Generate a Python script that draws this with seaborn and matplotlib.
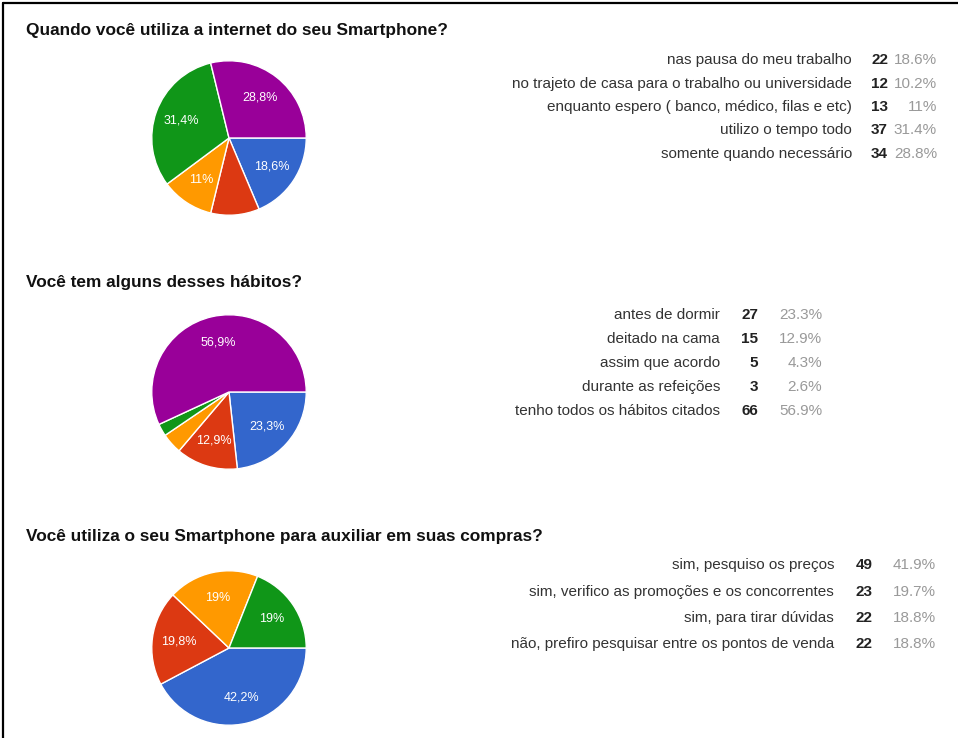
import matplotlib
matplotlib.use("Agg")
import matplotlib.pyplot as plt
import seaborn as sns
from matplotlib.lines import Line2D

sns.set_theme(style="white")
plt.rcParams['font.family'] = ['Liberation Sans', 'DejaVu Sans']

# ---------------- data ----------------
title1 = "Quando você utiliza a internet do seu Smartphone?"
labels1 = ["nas pausa do meu trabalho",
           "no trajeto de casa para o trabalho ou universidade",
           "enquanto espero ( banco, médico, filas e etc)",
           "utilizo o tempo todo",
           "somente quando necessário"]
counts1 = [22, 12, 13, 37, 34]
pcts1 = ["18.6%", "10.2%", "11%", "31.4%", "28.8%"]

title2 = "Você tem alguns desses hábitos?"
labels2 = ["antes de dormir", "deitado na cama", "assim que acordo",
           "durante as refeições", "tenho todos os hábitos citados"]
counts2 = [27, 15, 5, 3, 66]
pcts2 = ["23.3%", "12.9%", "4.3%", "2.6%", "56.9%"]

title3 = "Você utiliza o seu Smartphone para auxiliar em suas compras?"
labels3 = ["sim, pesquiso os preços",
           "sim, verifico as promoções e os concorrentes",
           "sim, para tirar dúvidas",
           "não, prefiro pesquisar entre os pontos de venda"]
counts3 = [49, 23, 22, 22]
pcts3 = ["41.9%", "19.7%", "18.8%", "18.8%"]

colors = ["#3366cc", "#dc3912", "#ff9900", "#109618", "#990099"]

# ---------------- figure ----------------
W, H = 958, 738
fig = plt.figure(figsize=(W / 100, H / 100), dpi=100)
fig.patch.set_facecolor("white")


def fx(x):
    return x / W


def fy(y):
    return 1 - y / H


# border (top and left only)
fig.add_artist(Line2D([fx(3), fx(958)], [fy(3), fy(3)], color="black", lw=1.6))
fig.add_artist(Line2D([fx(3), fx(3)], [fy(3), fy(738)], color="black", lw=1.6))


def fmt_pct(p):
    if p < 10.5:
        return ""
    s = f"{p:.1f}"
    if s.endswith(".0"):
        s = s[:-2]
    return s.replace(".", ",") + "%"


def section(title, title_y, labels, counts, pcts, cy, rows_y, lab_x, cnt_x, pct_x):
    fig.text(fx(26), fy(title_y), title, fontsize=12.4, fontweight="bold",
             color="#111111", ha="left", va="center")
    r = 78
    ax = fig.add_axes([fx(229 - r), fy(cy + r), 2 * r / W, 2 * r / H])
    wedges, texts, autotexts = ax.pie(
        counts, colors=colors[:len(counts)], startangle=0, counterclock=False,
        autopct=fmt_pct, pctdistance=0.66,
        wedgeprops=dict(edgecolor="white", linewidth=1.0),
        textprops=dict(color="white", fontsize=9))
    ax.set_xlim(-1.01, 1.01)
    ax.set_ylim(-1.01, 1.01)
    ax.set_axis_off()
    for lab, c, p, y in zip(labels, counts, pcts, rows_y):
        fig.text(fx(lab_x), fy(y), lab, fontsize=11, color="#333333",
                 ha="right", va="center")
        fig.text(fx(cnt_x), fy(y), str(c), fontsize=11, fontweight="bold",
                 color="#222222", ha="right", va="center")
        fig.text(fx(pct_x), fy(y), p, fontsize=11, color="#999999",
                 ha="right", va="center")


section(title1, 30, labels1, counts1, pcts1, 138,
        [60, 84, 107, 130, 154], 852, 888, 937)
section(title2, 282, labels2, counts2, pcts2, 392,
        [315, 339, 363, 387, 411], 720, 758, 822)
section(title3, 536, labels3, counts3, pcts3, 648,
        [565, 592, 618, 644], 834, 873, 936)

fig.savefig("out.png", dpi=100, facecolor="white")
